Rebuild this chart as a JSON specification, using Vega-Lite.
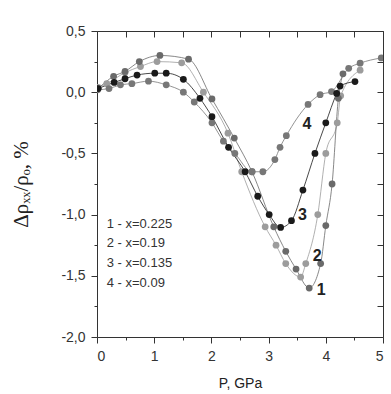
{
  "$schema": "https://vega.github.io/schema/vega-lite/v6.json",
  "width": 286,
  "height": 306,
  "autosize": "none",
  "padding": {"left": 97, "top": 31, "right": 8, "bottom": 57},
  "background": "white",
  "config": {
    "view": {"stroke": "#333", "strokeWidth": 1},
    "axis": {"domain": false, "grid": false, "tickColor": "#333", "labelColor": "#333", "labelFont": "Liberation Sans", "labelFontSize": 14, "titleColor": "#222", "tickWidth": 1}
  },
  "datasets": {
    "pts": [
      {"s": "2", "p": 0.02, "v": 0.04}, {"s": "2", "p": 0.17, "v": 0.07}, {"s": "2", "p": 0.49, "v": 0.16}, {"s": "2", "p": 0.76, "v": 0.21}, {"s": "2", "p": 1.05, "v": 0.25}, {"s": "2", "p": 1.48, "v": 0.24}, {"s": "2", "p": 1.86, "v": 0.0}, {"s": "2", "p": 2.29, "v": -0.335}, {"s": "2", "p": 2.53, "v": -0.65}, {"s": "2", "p": 2.94, "v": -1.1}, {"s": "2", "p": 3.13, "v": -1.25}, {"s": "2", "p": 3.3, "v": -1.4}, {"s": "2", "p": 3.56, "v": -1.51}, {"s": "2", "p": 3.65, "v": -1.4}, {"s": "2", "p": 3.86, "v": -1.0}, {"s": "2", "p": 4.0, "v": -0.5}, {"s": "2", "p": 4.2, "v": -0.25}, {"s": "2", "p": 4.26, "v": -0.03}, {"s": "2", "p": 4.6, "v": 0.18},
      {"s": "1", "p": 0.02, "v": 0.03}, {"s": "1", "p": 0.29, "v": 0.13}, {"s": "1", "p": 0.49, "v": 0.17}, {"s": "1", "p": 0.74, "v": 0.25}, {"s": "1", "p": 1.1, "v": 0.3}, {"s": "1", "p": 1.6, "v": 0.27}, {"s": "1", "p": 2.01, "v": -0.055}, {"s": "1", "p": 2.4, "v": -0.375}, {"s": "1", "p": 2.71, "v": -0.65}, {"s": "1", "p": 3.09, "v": -1.1}, {"s": "1", "p": 3.3, "v": -1.3}, {"s": "1", "p": 3.48, "v": -1.445}, {"s": "1", "p": 3.71, "v": -1.6}, {"s": "1", "p": 3.91, "v": -1.4}, {"s": "1", "p": 4.0, "v": -1.09}, {"s": "1", "p": 4.11, "v": -0.75}, {"s": "1", "p": 4.22, "v": -0.05}, {"s": "1", "p": 4.3, "v": 0.15},
      {"s": "4", "p": 0.01, "v": 0.02}, {"s": "4", "p": 0.21, "v": 0.03}, {"s": "4", "p": 0.41, "v": 0.06}, {"s": "4", "p": 0.61, "v": 0.07}, {"s": "4", "p": 0.9, "v": 0.09}, {"s": "4", "p": 1.21, "v": 0.06}, {"s": "4", "p": 1.51, "v": 0.0}, {"s": "4", "p": 1.7, "v": -0.08}, {"s": "4", "p": 2.01, "v": -0.25}, {"s": "4", "p": 2.21, "v": -0.4}, {"s": "4", "p": 2.41, "v": -0.5}, {"s": "4", "p": 2.71, "v": -0.65}, {"s": "4", "p": 2.9, "v": -0.65}, {"s": "4", "p": 3.11, "v": -0.55}, {"s": "4", "p": 3.2, "v": -0.45}, {"s": "4", "p": 3.31, "v": -0.355}, {"s": "4", "p": 3.69, "v": -0.1}, {"s": "4", "p": 3.9, "v": -0.02}, {"s": "4", "p": 4.1, "v": 0.005}, {"s": "4", "p": 4.4, "v": 0.195}, {"s": "4", "p": 4.6, "v": 0.237}, {"s": "4", "p": 4.97, "v": 0.28},
      {"s": "3", "p": 0.02, "v": 0.03}, {"s": "3", "p": 0.3, "v": 0.08}, {"s": "3", "p": 0.49, "v": 0.11}, {"s": "3", "p": 0.7, "v": 0.14}, {"s": "3", "p": 1.01, "v": 0.155}, {"s": "3", "p": 1.21, "v": 0.155}, {"s": "3", "p": 1.51, "v": 0.105}, {"s": "3", "p": 1.8, "v": -0.05}, {"s": "3", "p": 2.01, "v": -0.2}, {"s": "3", "p": 2.3, "v": -0.45}, {"s": "3", "p": 2.59, "v": -0.65}, {"s": "3", "p": 2.81, "v": -0.85}, {"s": "3", "p": 3.01, "v": -1.0}, {"s": "3", "p": 3.21, "v": -1.105}, {"s": "3", "p": 3.4, "v": -1.05}, {"s": "3", "p": 3.6, "v": -0.8}, {"s": "3", "p": 3.81, "v": -0.5}, {"s": "3", "p": 4.0, "v": -0.25}, {"s": "3", "p": 4.19, "v": -0.01}, {"s": "3", "p": 4.25, "v": 0.05}, {"s": "3", "p": 4.51, "v": 0.087}
    ],
    "lbl": [
      {"t": "1", "p": 3.92, "v": -1.62},
      {"t": "2", "p": 3.85, "v": -1.34},
      {"t": "3", "p": 3.59, "v": -1.0},
      {"t": "4", "p": 3.67, "v": -0.26}
    ],
    "leg": [
      {"t": "1 - x=0.225", "p": 0.17, "v": -1.077},
      {"t": "2 - x=0.19", "p": 0.17, "v": -1.234},
      {"t": "3 - x=0.135", "p": 0.17, "v": -1.397},
      {"t": "4 - x=0.09", "p": 0.17, "v": -1.556}
    ]
  },
  "resolve": {"axis": {"x": "independent", "y": "independent"}},
  "layer": [
    {
      "data": {"name": "pts"},
      "mark": {"type": "line", "interpolate": "monotone", "strokeWidth": 0.8, "clip": true},
      "encoding": {
        "x": {"field": "p", "type": "quantitative", "scale": {"domain": [0, 5], "nice": false, "zero": false},
              "axis": {"orient": "bottom", "values": [0, 1, 2, 3, 4, 5], "tickSize": 6, "labelPadding": 6, "title": "P, GPa", "titleFont": "Liberation Sans", "titleFontSize": 14, "titleFontWeight": "normal", "titleY": 46, "titleBaseline": "middle"}},
        "y": {"field": "v", "type": "quantitative", "scale": {"domain": [-2, 0.5], "nice": false, "zero": false},
              "axis": {"orient": "left", "values": [-2, -1.5, -1, -0.5, 0, 0.5], "tickSize": 6, "labelPadding": 6, "labelExpr": "replace(replace(format(datum.value, '.1f'), '.', ','), '\u2212', '-')", "title": "\u0394\u03c1\u2093\u2093/\u03c1\u2092, %", "titleFont": "Liberation Serif", "titleFontSize": 21, "titleFontWeight": "normal", "titleX": -66}},
        "color": {"field": "s", "type": "nominal", "scale": {"domain": ["1", "2", "3", "4"], "range": ["#6a6a6a", "#9c9c9c", "#1a1a1a", "#777777"]}, "legend": null}
      }
    },
    {
      "data": {"name": "pts"},
      "mark": {"type": "circle", "size": 46, "opacity": 1, "clip": true},
      "encoding": {
        "x": {"field": "p", "type": "quantitative", "axis": {"orient": "bottom", "values": [0.5, 1.5, 2.5, 3.5, 4.5], "tickSize": 3, "labels": false, "title": null}},
        "y": {"field": "v", "type": "quantitative", "axis": {"orient": "left", "values": [-1.75, -1.25, -0.75, -0.25, 0.25], "tickSize": 3, "labels": false, "title": null}},
        "color": {"field": "s", "type": "nominal", "legend": null}
      }
    },
    {
      "data": {"name": "lbl"},
      "mark": {"type": "text", "font": "Liberation Sans", "fontSize": 16, "fontWeight": "bold", "color": "#222"},
      "encoding": {
        "x": {"field": "p", "type": "quantitative", "axis": {"orient": "top", "values": [0, 0.5, 1, 1.5, 2, 2.5, 3, 3.5, 4, 4.5, 5], "tickSize": -6, "labels": false, "title": null}},
        "y": {"field": "v", "type": "quantitative", "axis": {"orient": "right", "values": [-2, -1.75, -1.5, -1.25, -1, -0.75, -0.5, -0.25, 0, 0.25, 0.5], "tickSize": -6, "labels": false, "title": null}},
        "text": {"field": "t"}
      }
    },
    {
      "data": {"name": "leg"},
      "mark": {"type": "text", "font": "Liberation Sans", "fontSize": 13, "align": "left", "baseline": "middle", "color": "#333"},
      "encoding": {
        "x": {"field": "p", "type": "quantitative", "axis": null},
        "y": {"field": "v", "type": "quantitative", "axis": null},
        "text": {"field": "t"}
      }
    }
  ]
}
